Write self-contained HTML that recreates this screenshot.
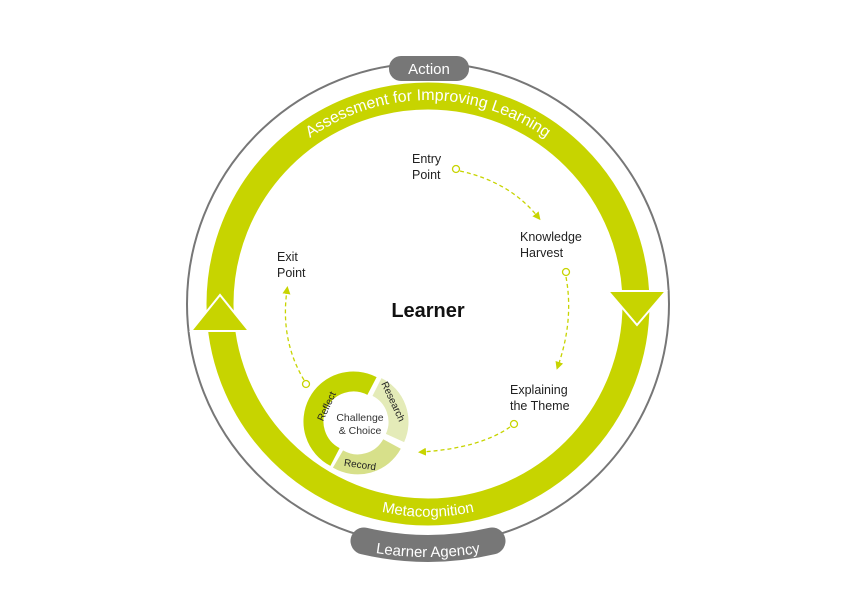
<!DOCTYPE html>
<html><head><style>
html,body{margin:0;padding:0;background:#fff;width:857px;height:612px;overflow:hidden}
text{font-family:"Liberation Sans","DejaVu Sans",sans-serif}
</style></head><body>
<svg width="857" height="612" viewBox="0 0 857 612" xmlns="http://www.w3.org/2000/svg">
<defs>
<path id="top" d="M 252 202 A 203 203 0 0 1 604 202"/>
<path id="bot" d="M 278 455 A 213 213 0 0 0 578 455"/>
<path id="agency" d="M 350 548 Q 428 566 506 548"/>
<marker id="ah" markerWidth="8" markerHeight="8" refX="4" refY="4" orient="auto" markerUnits="userSpaceOnUse"><path d="M0,0 L8,4 L0,8 z" fill="#c7d400"/></marker>
</defs>
<circle cx="428" cy="304" r="241" fill="none" stroke="#777" stroke-width="2"/>
<circle cx="428" cy="304" r="208" fill="none" stroke="#c7d400" stroke-width="27"/>
<polygon points="608,291 666,291 637,325" fill="#c7d400" stroke="#fff" stroke-width="2"/>
<polygon points="191,331 249,331 220,295" fill="#c7d400" stroke="#fff" stroke-width="2"/>
<text font-size="16" fill="#fff" text-anchor="middle"><textPath href="#top" startOffset="50%">Assessment for Improving Learning</textPath></text>
<text font-size="15" fill="#fff" text-anchor="middle"><textPath href="#bot" startOffset="50%">Metacognition</textPath></text>
<rect x="389" y="56" width="80" height="25" rx="12" fill="#777"/>
<text x="429" y="74" font-size="15" fill="#fff" text-anchor="middle">Action</text>
<path d="M 364 541 Q 428 556 492 541" fill="none" stroke="#777" stroke-width="27" stroke-linecap="round"/>
<text font-size="15" fill="#fff" text-anchor="middle"><textPath href="#agency" startOffset="50%">Learner Agency</textPath></text>
<text font-size="12.5" fill="#222"><tspan x="412" y="163">Entry</tspan><tspan x="412" y="179">Point</tspan></text>
<text font-size="12.5" fill="#222"><tspan x="520" y="241">Knowledge</tspan><tspan x="520" y="257">Harvest</tspan></text>
<text font-size="12.5" fill="#222"><tspan x="277" y="261">Exit</tspan><tspan x="277" y="277">Point</tspan></text>
<text font-size="12.5" fill="#222"><tspan x="510" y="394">Explaining</tspan><tspan x="510" y="410">the Theme</tspan></text>
<text x="428" y="317" font-size="20" font-weight="bold" fill="#111" text-anchor="middle">Learner</text>
<g fill="none" stroke="#c7d400" stroke-width="1.3" stroke-dasharray="4,3">
<path d="M 460 171 Q 510 182 538 217" marker-end="url(#ah)"/>
<path d="M 566 277 Q 574 320 558 366" marker-end="url(#ah)"/>
<path d="M 510 427 Q 480 448 422 452" marker-end="url(#ah)"/>
<path d="M 304 380 Q 280 340 287 290" marker-end="url(#ah)"/>
</g>
<g fill="#fff" stroke="#c7d400" stroke-width="1.3">
<circle cx="456" cy="169" r="3.5"/>
<circle cx="566" cy="272" r="3.5"/>
<circle cx="514" cy="424" r="3.5"/>
<circle cx="306" cy="384" r="3.5"/>
</g>
<g fill="none" stroke-width="20">
<path d="M 335 457 A 39 39 0 0 1 372 386" stroke="#c2d400"/>
<path d="M 377 387 A 39 39 0 0 1 395 438" stroke="#e4ebb8"/>
<path d="M 392 444 A 39 39 0 0 1 338 459" stroke="#d7e08a"/>
</g>
<text x="360" y="421" font-size="10.5" fill="#333" text-anchor="middle">Challenge</text>
<text x="360" y="434" font-size="10.5" fill="#333" text-anchor="middle">&amp; Choice</text>
<text x="326" y="410" font-size="10" fill="#222" text-anchor="middle" transform="rotate(-65 326 406)">Reflect</text>
<text x="392" y="404" font-size="10" fill="#222" text-anchor="middle" transform="rotate(65 392 402)">Research</text>
<text x="360" y="468" font-size="10" fill="#222" text-anchor="middle" transform="rotate(8 360 465)">Record</text>
</svg>
</body></html>
